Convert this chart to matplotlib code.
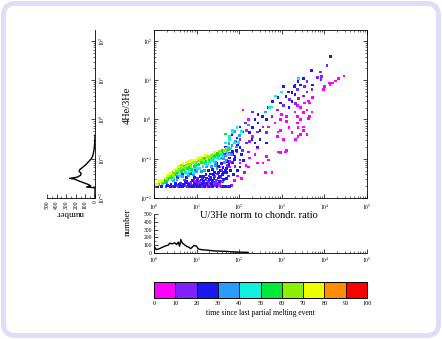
import numpy as np
import matplotlib
matplotlib.use("Agg")
import matplotlib.pyplot as plt
from matplotlib.colors import ListedColormap, BoundaryNorm
from matplotlib.cm import ScalarMappable
from matplotlib.patches import FancyBboxPatch
from matplotlib.ticker import LogLocator, NullFormatter, FixedLocator, MultipleLocator

plt.rcParams['font.family'] = ['Liberation Serif', 'DejaVu Serif']
plt.rcParams['mathtext.fontset'] = 'stix'

# ---------------- data (log10 values) ----------------
# time since last partial melting event, one value per colour group
group_ages = [5, 15, 25, 35, 45, 55, 65, 75]

# age 0-10
lx_00 = [4.46, 4.34, 4.27, 4.20, 4.11, 3.73, 3.62, 3.54, 3.36, 3.43, 3.31, 3.50, 3.36, 3.66, 3.12, 3.00,
         2.84, 2.68, 3.36, 3.50, 3.38, 3.24, 3.59, 2.96, 2.89, 4.13, 4.01, 3.97, 3.66, 3.59, 3.71, 3.62,
         3.43, 3.50, 3.38, 3.33, 2.09, 2.21, 2.18, 2.32, 2.42, 3.12, 3.08, 2.96, 2.65, 2.37, 2.42, 2.16,
         1.97, 2.61, 2.77, 1.71, 1.78, 1.62, 1.55, 1.43, 1.36, 1.62, 1.78, 2.02, 2.25, 2.21, 2.56, 2.96,
         3.12, 2.91, 3.17, 3.43, 3.03, 2.91, 2.68, 0.97, 1.22, 1.30, 1.40, 1.52, 1.60, 1.15, 1.36, 1.55,
         0.92, 1.08, 1.27, 1.38, 1.48, 1.88, 2.05, 1.70]
ly_00 = [1.11, 1.04, 0.98, 0.93, 0.93, 0.55, 0.47, 0.42, 0.35, 0.30, 0.19, 0.17, 0.07, 0.07, 0.07, 0.12,
         -0.09, -0.19, -0.09, -0.19, -0.21, -0.34, -0.39, -0.27, -0.44, 0.88, 0.83, 0.76, 0.42, 0.24, 0.19, 0.02,
         -0.01, -0.27, -0.44, -0.50, 0.24, -0.01, -0.27, -0.44, -0.72, -0.78, -0.83, -0.85, -0.95, -0.90, -1.11, -1.18,
         -1.44, -1.36, -1.34, -1.03, -1.21, -1.59, -1.62, -1.62, -1.59, -0.95, -1.08, -1.11, -0.98, -1.21, -1.11, -0.01,
         -0.06, -0.32, -0.21, -0.39, -0.52, -0.83, -1.03, -1.59, -1.69, -1.66, -1.64, -1.68, -1.58, -1.11, -1.23, -1.21,
         -1.54, -1.62, -1.62, -1.54, -1.62, -1.55, -1.50, -1.50]

# age 10-20
lx_10 = [4.06, 3.90, 3.94, 3.59, 3.54, 3.36, 3.59, 3.71, 3.50, 3.03, 2.89, 2.77, 3.83, 3.92, 3.19, 3.40,
         3.33, 2.32, 2.56, 2.65, 2.14, 2.02, 2.25, 1.95, 2.02, 2.42, 2.18, 2.21, 0.28, 0.42, 0.52, 0.58,
         0.63, 0.72, 0.71, 0.78, 0.84, 0.90, 0.87, 0.98, 1.04, 1.03, 1.12, 1.07, 1.13, 1.20, 1.21, 1.32,
         1.27, 1.29, 1.42, 1.44, 1.43, 1.50, 1.47, 1.49, 1.58, 1.57, 1.59, 1.72, 1.74, 1.73, 1.82, 1.84,
         1.90, 2.08, 1.77, 2.12, 1.66]
ly_10 = [1.37, 1.21, 1.09, 0.96, 0.83, 0.76, 0.70, 0.76, 0.60, 0.35, 0.24, 0.07, 1.06, 1.01, 0.50, 0.53,
         0.40, 0.19, -0.19, -0.34, -0.09, -0.52, -0.57, -0.83, -1.03, -0.32, -0.60, -0.83, -1.71, -1.70, -1.68, -1.71,
         -1.62, -1.69, -1.54, -1.70, -1.62, -1.67, -1.60, -1.71, -1.63, -1.51, -1.71, -1.58, -1.50, -1.66, -1.54, -1.70,
         -1.58, -1.44, -1.69, -1.60, -1.46, -1.63, -1.54, -1.39, -1.70, -1.47, -1.29, -1.70, -1.44, -1.18, -1.69, -1.10,
         -1.20, -0.78, -0.86, -1.35, -0.90]

# age 20-30
lx_20 = [4.15, 3.69, 3.50, 3.38, 3.43, 3.29, 3.03, 3.15, 3.24, 3.73, 2.91, 2.79, 2.96, 2.68, 3.31, 3.10,
         3.24, 3.17, 3.31, 2.54, 2.37, 2.44, 2.65, 2.49, 2.02, 1.83, 1.95, 2.37, 2.65, 1.67, 1.71, 1.90,
         1.85, 2.02, 1.71, 2.09, 2.25, 2.32, 2.30, 2.02, 1.85, 2.42, 2.49, 2.44,
         0.09, 0.18, 0.31, 0.38, 0.40, 0.48, 0.50, 0.62, 0.60, 0.68, 0.70, 0.74, 0.82, 0.80, 0.77, 0.88,
         0.92, 0.94, 0.91, 0.96, 1.02, 1.00, 1.01, 1.08, 1.10, 1.14, 1.11, 1.09, 1.16, 1.18, 1.24, 1.17,
         1.23, 1.22, 1.28, 1.34, 1.31, 1.33, 1.32, 1.28, 1.38, 1.37, 1.41, 1.39, 1.42, 1.38, 1.48, 1.54,
         1.51, 1.53, 1.52, 1.55, 1.51, 1.62, 1.64, 1.61, 1.63, 1.62, 1.58, 1.68, 1.70, 1.67, 1.71, 1.72,
         1.78, 1.80, 1.78, 1.85, 1.88, 1.93, 1.97, 2.05, 1.76, 1.87, 2.10, 1.58, 1.47, 1.96,
         0.55, 0.66, 0.76, 0.86, 0.97]
ly_20 = [1.60, 1.24, 1.04, 0.96, 0.88, 0.83, 0.83, 0.70, 0.68, 0.88, 0.55, 0.45, 0.42, 0.30, 0.63, 0.58,
         0.45, 0.30, 0.88, 0.07, -0.01, -0.09, -0.01, -0.27, -0.19, -0.39, -0.47, -0.60, -0.60, -0.70, -0.85, -0.95,
         -1.11, -1.21, -1.36, -0.32, -0.34, -0.21, -0.52, -0.72, -0.90, -0.70, -0.52, 0.12,
         -1.70, -1.70, -1.68, -1.71, -1.66, -1.70, -1.64, -1.70, -1.66, -1.71, -1.65, -1.61, -1.71, -1.66, -1.58, -1.71,
         -1.70, -1.63, -1.56, -1.47, -1.70, -1.66, -1.55, -1.70, -1.67, -1.62, -1.54, -1.46, -1.45, -1.70, -1.62, -1.58,
         -1.49, -1.40, -1.71, -1.62, -1.53, -1.48, -1.39, -1.30, -1.70, -1.56, -1.51, -1.41, -1.36, -1.27, -1.71, -1.58,
         -1.49, -1.44, -1.34, -1.29, -1.19, -1.71, -1.52, -1.41, -1.35, -1.23, -1.12, -1.71, -1.50, -1.30, -1.24, -1.06,
         -1.70, -1.30, -0.98, -0.82, -1.02, -0.78, -1.30, -0.90, -1.15, -1.40, -1.05, -0.98, -1.12, -0.65,
         -1.48, -1.40, -1.47, -1.38, -1.28]

# age 30-40
lx_30 = [2.61, 2.21, 0.30, 0.45, 0.54, 0.57, 0.67, 0.81, 0.93, 0.99, 1.12, 1.19, 1.24, 1.35, 1.45, 1.44,
         1.48, 1.65, 1.64, 1.69, 1.68, 1.82, 1.83, 1.92, 1.94, 2.00, 1.76, 1.90]
ly_30 = [0.19, -0.14, -1.60, -1.55, -1.52, -1.44, -1.45, -1.42, -1.40, -1.33, -1.32, -1.30, -1.21, -1.20, -1.18, -1.10,
         -1.24, -1.10, -1.00, -1.05, -0.93, -0.90, -0.67, -0.55, -0.70, -0.40, -0.62, -0.30]

# age 40-50
lx_40 = [3.00, 2.86, 2.77, 3.40, 2.72, 1.95, 1.85, 1.78, 1.85, 1.78, 1.67, 1.74, 1.62,
         0.20, 0.43, 0.47, 0.61, 0.73, 0.83, 0.79, 0.89, 0.92, 1.02, 0.98, 1.15, 1.08, 1.25, 1.18, 1.31,
         1.34, 1.41, 1.39, 1.54, 1.49, 1.55, 1.61, 1.59, 1.75, 1.71, 1.80, 1.88, 1.98, 2.05]
ly_40 = [0.70, 0.60, 0.32, 1.04, 0.30, -0.21, -0.27, -0.44, -0.34, -0.52, -0.60, -0.72, -0.83,
         -1.62, -1.53, -1.47, -1.42, -1.35, -1.33, -1.38, -1.30, -1.36, -1.25, -1.22, -1.20, -1.24, -1.15, -1.13, -1.10,
         -1.05, -1.08, -1.00, -1.00, -0.97, -0.90, -0.95, -0.88, -0.90, -0.82, -0.74, -0.60, -0.58, -0.30]

# age 50-60
lx_50 = [1.67, 0.02, 0.11, 0.22, 0.27, 0.33, 0.37, 0.41, 0.51, 0.55, 0.64, 0.59, 0.69, 0.72, 0.82, 0.85,
         0.95, 0.88, 1.05, 1.01, 1.11, 1.14, 1.21, 1.19, 1.29, 1.32, 1.42, 1.45, 1.52, 1.50, 1.62, 1.60, 1.74,
         0.46, 0.78, 0.98]
ly_50 = [-0.37, -1.70, -1.65, -1.60, -1.55, -1.52, -1.48, -1.45, -1.40, -1.35, -1.33, -1.28, -1.27, -1.20, -1.22, -1.17,
         -1.20, -1.28, -1.15, -1.12, -1.10, -1.05, -1.08, -1.00, -1.03, -0.96, -0.95, -0.90, -0.93, -0.86, -0.84, -0.78, -0.76,
         -1.36, -1.25, -1.16]

# age 60-70
lx_60 = [0.08, 0.21, 0.29, 0.44, 0.49, 0.46, 0.62, 0.65, 0.75, 0.71, 0.78, 0.84, 0.91, 0.94, 1.04, 0.99,
         1.09, 1.12, 1.22, 1.25, 1.35, 1.30, 1.40, 1.53, 1.65, 1.69, 0.36, 0.56, 0.87, 1.16]
ly_60 = [-1.66, -1.57, -1.50, -1.38, -1.33, -1.42, -1.25, -1.18, -1.17, -1.22, -1.13, -1.15, -1.10, -1.06, -1.05, -1.09,
         -1.01, -0.98, -0.98, -0.94, -0.92, -0.96, -0.88, -0.82, -0.79, -0.74, -1.44, -1.30, -1.20, -1.05]

# age 70-80
lx_70 = [0.05, 0.12, 0.17, 0.32, 0.39, 0.53, 0.58, 0.68, 0.81, 0.89, 1.02, 1.10, 1.20, 1.43, 0.47, 0.75,
         0.95, 0.25]
ly_70 = [-1.66, -1.59, -1.56, -1.43, -1.37, -1.26, -1.20, -1.13, -1.08, -1.04, -1.00, -0.96, -0.92, -0.84, -1.31, -1.10,
         -1.03, -1.49]

# histogram of U/3He (log10 bin centre, number)
hist_u_log = [0.0, 0.055, 0.13, 0.25, 0.33, 0.37, 0.42, 0.49, 0.53, 0.57, 0.60, 0.63, 0.66, 0.71,
              0.76, 0.82, 0.86, 0.94, 1.0, 1.04, 1.11, 1.27, 1.43, 1.66, 1.90, 2.13, 2.21]
hist_u_num = [87, 43, 56, 87, 100, 126, 117, 130, 109, 139, 87, 174, 130, 109,
              87, 74, 56, 96, 87, 52, 43, 35, 26, 22, 13, 9, 9]

# histogram of 4He/3He (log10 bin centre, number)
hist_he_log = [-1.98, -1.74, -1.72, -1.69, -1.65, -1.61, -1.56, -1.52, -1.50, -1.47, -1.42, -1.37,
               -1.32, -1.28, -1.22, -1.15, -1.07, -0.99, -0.90, -0.80, -0.69, -0.55, -0.40]
hist_he_num = [0, 0, 88, 45, 75, 120, 175, 210, 265, 185, 150, 145,
               165, 160, 130, 95, 65, 35, 20, 12, 6, 2, 0]

# colour scale
age_bounds = list(range(0, 101, 10))
age_colors = ['#ff00ff', '#7f22ff', '#1a1aee', '#2a9cff', '#10f0dc',
              '#00e83a', '#8cee00', '#eeff00', '#ff8c00', '#ff0000']

x_ticks_log = [0, 1, 2, 3, 4, 5]
y_ticks_log = [-2, -1, 0, 1, 2]
x_lim_log = (0, 5)
y_lim_log = (-2, 2.28)

# ---------------- figure ----------------
W, H = 442, 339
fig = plt.figure(figsize=(W / 100, H / 100), dpi=100)
fig.patch.set_facecolor('white')

def frac(x0, y0, x1, y1):
    return [x0 / W, 1 - y1 / H, (x1 - x0) / W, (y1 - y0) / H]

cmap = ListedColormap(age_colors)
norm = BoundaryNorm(age_bounds, cmap.N)

def log_axis(axis, ticks):
    axis.set_major_locator(FixedLocator([10.0 ** t for t in ticks]))
    axis.set_minor_locator(LogLocator(base=10, subs=np.arange(2, 10), numticks=50))
    axis.set_minor_formatter(NullFormatter())
    axis.set_ticklabels([r'$10^{%d}$' % t for t in ticks])

tick_kw = dict(direction='in', labelsize=4, width=0.5, pad=1.5)

# main scatter
ax = fig.add_axes(frac(154, 30, 367, 198))
lx_groups = [lx_00, lx_10, lx_20, lx_30, lx_40, lx_50, lx_60, lx_70]
ly_groups = [ly_00, ly_10, ly_20, ly_30, ly_40, ly_50, ly_60, ly_70]
for age, gx, gy in zip(group_ages, lx_groups, ly_groups):
    ax.scatter(10.0 ** np.array(gx), 10.0 ** np.array(gy), c=[age] * len(gx),
               cmap=cmap, norm=norm, marker='s', s=4.2, linewidths=0)
ax.set_xscale('log')
ax.set_yscale('log')
ax.set_xlim(10 ** x_lim_log[0], 10 ** x_lim_log[1])
ax.set_ylim(10 ** y_lim_log[0], 10 ** y_lim_log[1])
log_axis(ax.xaxis, x_ticks_log)
log_axis(ax.yaxis, y_ticks_log)
ax.tick_params(which='both', top=True, right=True, **tick_kw)
ax.tick_params(which='major', length=3)
ax.tick_params(which='minor', length=1.5, width=0.4)
ax.tick_params(axis='x', pad=3)
for s in ax.spines.values():
    s.set_linewidth(0.6)

fig.text(259 / W, 1 - 215 / H, 'U/3He norm to chondr. ratio', ha='center', va='center', fontsize=7.5)
fig.text(127 / W, 1 - 105 / H, '4He/3He', ha='center', va='center', rotation=90, fontsize=7.5)

# 4He/3He histogram, turned on its side
axl = fig.add_axes(frac(47, 30, 95, 198))
axl.plot(hist_he_num, 10.0 ** np.array(hist_he_log), color='black', lw=1.0)
axl.set_yscale('log')
axl.set_ylim(10 ** y_lim_log[0], 10 ** y_lim_log[1])
axl.set_xlim(500, 0)
log_axis(axl.yaxis, y_ticks_log)
axl.yaxis.tick_right()
axl.xaxis.set_major_locator(MultipleLocator(100))
axl.xaxis.set_minor_locator(MultipleLocator(50))
axl.spines['left'].set_visible(False)
axl.spines['top'].set_visible(False)
axl.spines['right'].set_linewidth(0.6)
axl.spines['bottom'].set_linewidth(0.6)
axl.tick_params(which='both', **tick_kw)
axl.tick_params(which='major', length=3)
axl.tick_params(which='minor', length=1.5, width=0.4)
for lab in axl.get_yticklabels():
    lab.set_rotation(90)
    lab.set_va('center')
for lab in axl.get_xticklabels():
    lab.set_rotation(90)
fig.text(70 / W, 1 - 213 / H, 'number', ha='center', va='center', rotation=180, fontsize=6.5)

# U/3He histogram
axb = fig.add_axes(frac(154, 214, 367, 253))
axb.plot(10.0 ** np.array(hist_u_log), hist_u_num, color='black', lw=1.0)
axb.set_xscale('log')
axb.set_xlim(10 ** x_lim_log[0], 10 ** x_lim_log[1])
axb.set_ylim(0, 500)
log_axis(axb.xaxis, x_ticks_log)
axb.yaxis.set_major_locator(MultipleLocator(100))
axb.yaxis.set_minor_locator(MultipleLocator(50))
axb.spines['right'].set_visible(False)
axb.spines['top'].set_visible(False)
axb.spines['left'].set_linewidth(0.6)
axb.spines['bottom'].set_linewidth(0.6)
axb.tick_params(which='both', **tick_kw)
axb.tick_params(which='major', length=3)
axb.tick_params(which='minor', length=1.5, width=0.4)
fig.text(128 / W, 1 - 222 / H, 'number', ha='center', va='center', rotation=90, fontsize=6.5)

# colour bar for time since last melting
cax = fig.add_axes(frac(154, 282, 367, 298))
sm = ScalarMappable(norm=norm, cmap=cmap)
cb = fig.colorbar(sm, cax=cax, orientation='horizontal', drawedges=True, ticks=age_bounds)
cb.outline.set_linewidth(0.7)
cb.dividers.set_color('black')
cb.dividers.set_linewidth(0.6)
cax.tick_params(labelsize=4.5, length=0, pad=2)
cb.set_label('time since last partial melting event', fontsize=5.5, labelpad=2)

# rounded frame
frame = FancyBboxPatch((0.035, 0.035), W / 100 - 0.07, H / 100 - 0.07,
                       boxstyle='round,pad=0,rounding_size=0.12',
                       transform=fig.dpi_scale_trans, fc='none', ec='#dedef8', lw=3.6)
fig.patches.append(frame)

fig.savefig('out.png', dpi=100)
